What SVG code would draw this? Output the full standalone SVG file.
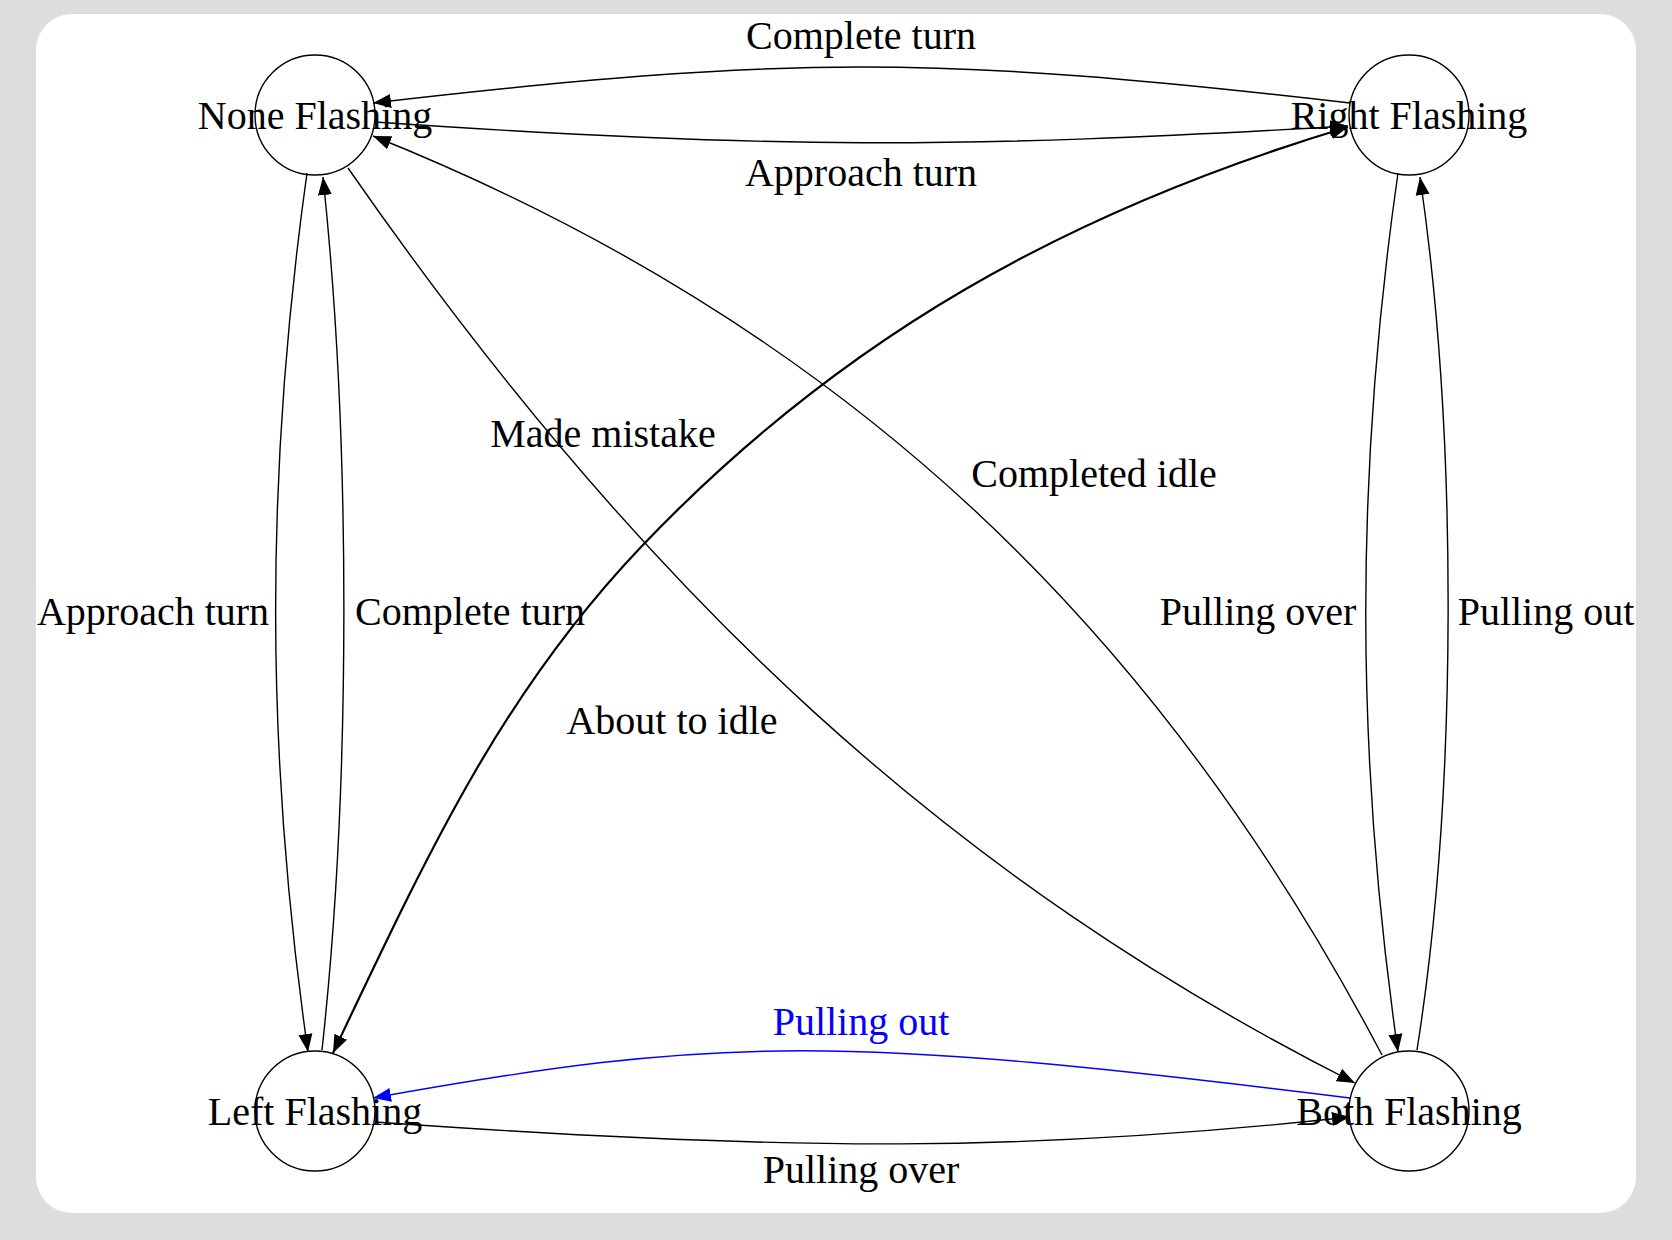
<svg xmlns="http://www.w3.org/2000/svg" width="1672" height="1240" viewBox="0 0 1672 1240">
<style>
.bg{fill:#dddddd}
.card{fill:#ffffff}
.node{fill:none;stroke:#000;stroke-width:1.4}
.edge{fill:none;stroke:#000;stroke-width:1.4}
.thick{stroke-width:2.2}
.blue{stroke:#0000ff}
text{font-family:"Liberation Serif","Times New Roman",serif;font-size:40px;fill:#000;text-anchor:middle}
text.bl{fill:#0000ff}
</style>
<defs>
<marker id="ah" markerUnits="userSpaceOnUse" markerWidth="20" markerHeight="16" viewBox="0 0 20 16" refX="18" refY="8" orient="auto-start-reverse"><path d="M0,1 L18,8 L0,15 z" fill="#000"/></marker>
<marker id="ahb" markerUnits="userSpaceOnUse" markerWidth="20" markerHeight="16" viewBox="0 0 20 16" refX="18" refY="8" orient="auto"><path d="M0,1 L18,8 L0,15 z" fill="#0000ff"/></marker>
</defs>
<rect class="bg" x="0" y="0" width="1672" height="1240"/>
<rect class="card" x="36" y="14" width="1600" height="1199" rx="36" ry="36"/>
<g id="connectors">
<path class="edge" d="M1350,103 C934,55 789,55 373,103" marker-end="url(#ah)"/>
<path class="edge" d="M375,122 C765,149 958,149 1348,126" marker-end="url(#ah)"/>
<path class="edge" d="M307,173 C265,473 265,752 308,1052" marker-end="url(#ah)"/>
<path class="edge" d="M322,1050 C351,786 351,441 323,177" marker-end="url(#ah)"/>
<path class="edge" d="M1398,173 C1355,473 1355,752 1398,1052" marker-end="url(#ah)"/>
<path class="edge" d="M1417,1050 C1458,790 1458,437 1420,177" marker-end="url(#ah)"/>
<path class="edge" d="M348,168 C648,600 953,880 1355,1083" marker-end="url(#ah)"/>
<path class="edge" d="M1382,1055 C1162,637 853,328 373,136" marker-end="url(#ah)"/>
<path class="edge thick" d="M333,1053 C428,853 501,694 641,547 C841,337 1068,211 1348,127" marker-start="url(#ah)" marker-end="url(#ah)"/>
<path class="edge blue" d="M1350,1098 C842,1035 723,1035 373,1098" marker-end="url(#ahb)"/>
<path class="edge" d="M375,1122 C795,1152 1030,1152 1350,1117" marker-end="url(#ah)"/>
</g>
<g id="edge-labels">
<text x="861" y="49">Complete turn</text>
<text x="861" y="186">Approach turn</text>
<text x="153" y="625">Approach turn</text>
<text x="470" y="625">Complete turn</text>
<text x="603" y="447">Made mistake</text>
<text x="1094" y="487">Completed idle</text>
<text x="672" y="734">About to idle</text>
<text x="1258" y="625">Pulling over</text>
<text x="1546" y="625">Pulling out</text>
<text class="bl" x="861" y="1035">Pulling out</text>
<text x="861" y="1183">Pulling over</text>
</g>
<g id="none-flashing">
<circle class="node" cx="315" cy="115" r="60"/>
<text x="315" y="129">None Flashing</text>
</g>
<g id="right-flashing">
<circle class="node" cx="1409" cy="115" r="60"/>
<text x="1409" y="129">Right Flashing</text>
</g>
<g id="left-flashing">
<circle class="node" cx="315" cy="1111" r="60"/>
<text x="315" y="1125">Left Flashing</text>
</g>
<g id="both-flashing">
<circle class="node" cx="1409" cy="1111" r="60"/>
<text x="1409" y="1125">Both Flashing</text>
</g>
</svg>
